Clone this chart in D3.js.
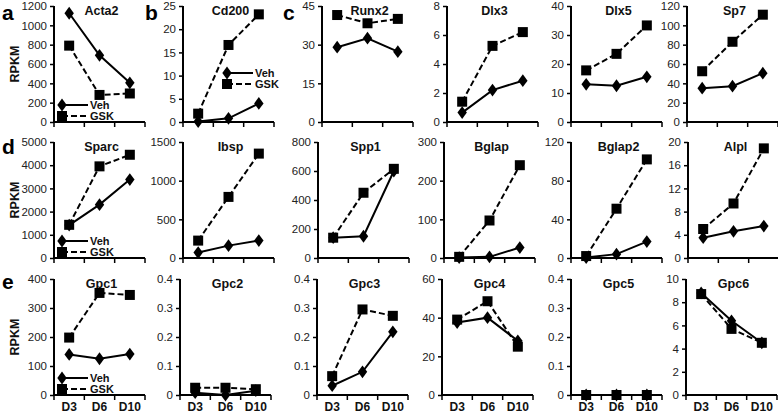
<!DOCTYPE html>
<html><head><meta charset="utf-8">
<script src="https://cdn.jsdelivr.net/npm/d3@7"></script>
<style>body{margin:0;background:#fff}svg{display:block}</style>
</head><body>
<svg id="c" width="778" height="414"></svg>
<script>
const days = ["D3","D6","D10"];
const genes = ["Acta2","Cd200","Runx2","Dlx3","Dlx5","Sp7","Sparc","Ibsp","Spp1","Bglap","Bglap2","Alpl","Gpc1","Gpc2","Gpc3","Gpc4","Gpc5","Gpc6"];
const vehValues = [
  [1125,690,405],[0.1,0.8,4.0],[29,32.5,27.3],[0.65,2.2,2.85],[13,12.5,15.6],[35,37,50.5],
  [1420,2300,3380],[70,160,225],[140,150,600],[1,3,27],[0.5,4,17],[3.5,4.6,5.5],
  [140,125,141],[0.008,0,0.015],[0.032,0.08,0.218],[37.5,40,28],[0,0,0],[8.8,6.4,4.5]
];
const gskValues = [
  [790,280,295],[1.8,16.6,23.2],[41.5,38.3,40],[1.4,5.25,6.2],[17.8,23.5,33.3],[52.5,83,111],
  [1430,3950,4450],[225,790,1350],[140,450,615],[3,97,240],[2,51,102],[5,9.4,18.9],
  [198,352,345],[0.025,0.025,0.02],[0.065,0.295,0.273],[39,48.5,25],[0,0,0],[8.7,5.7,4.5]
];
const yMax = [1200,25,45,8,40,120, 5000,1500,800,300,120,20, 400,0.4,0.4,60,0.4,10];
const yStep = [200,5,15,2,10,20, 1000,500,200,100,40,4, 100,0.1,0.1,20,0.1,2];
const panelLetters = ["a","b","c","d","e"];
const seriesNames = ["Veh","GSK"];
const yLabel = "RPKM";

// layout
const axisLeft = [[54,183,322,447,571,687],[54,183,318,444,571,688],[54,180,317,442,571,686]];
const rowTop = [6,142,279];
const plotH = 116, plotW = 91;
const legendPanels = {0:"bottom",1:"middle",6:"bottom",12:"bottom"};
const letterPos = [[2,20],[145,20],[283,20],[2,154],[2,289]];

const svg = d3.select("#c");
const font = "Liberation Sans, Arial, sans-serif";

function marker(g, type, x, y){
  if(type==="Veh"){
    g.append("path").attr("d", d3.symbol(d3.symbolDiamond, 58)()).attr("transform",`translate(${x},${y}) scale(1.15,0.9)`).attr("fill","#000");
  } else {
    g.append("rect").attr("x",x-5).attr("y",y-5).attr("width",10).attr("height",10).attr("fill","#000");
  }
}

genes.forEach((gene,i)=>{
  const r = Math.floor(i/6), c = i%6;
  const x0 = axisLeft[r][c], y0 = rowTop[r];
  const g = svg.append("g").attr("transform",`translate(${x0},${y0})`);
  const x = d3.scaleBand().domain(days).range([0,plotW]).padding(0);
  const y = d3.scaleLinear().domain([0,yMax[i]]).range([plotH,0]);
  const ticks = d3.range(0, yMax[i]+yStep[i]/2, yStep[i]).map(v=>+v.toFixed(4));
  const ya = g.append("g").call(d3.axisLeft(y).tickValues(ticks).tickSize(4).tickPadding(3).tickFormat(d=>String(d)));
  ya.select(".domain").attr("stroke","#000").attr("stroke-width",2).attr("d",`M0,${plotH+1}V0`);
  ya.selectAll(".tick line").attr("stroke","#000").attr("stroke-width",1.5);
  ya.selectAll("text").attr("font-family",font).attr("font-size",11.5).attr("fill","#222");
  const xa = g.append("g").attr("transform",`translate(0,${plotH})`);
  xa.append("line").attr("x1",-1).attr("x2",plotW).attr("stroke","#000").attr("stroke-width",2);
  [0,1,2,3].forEach(k=>{
    const tx = k<3 ? x(days[k]) : plotW;
    xa.append("line").attr("x1",tx).attr("x2",tx).attr("y1",0).attr("y2",5).attr("stroke","#000").attr("stroke-width",1.5);
  });
  if(r===2){
    days.forEach(d=>{
      xa.append("text").attr("x",x(d)+x.bandwidth()/2).attr("y",16).attr("text-anchor","middle")
        .attr("font-family",font).attr("font-weight","bold").attr("font-size",12).attr("fill","#111").text(d);
    });
  }
  g.append("text").attr("x",plotW/2+2).attr("y",9).attr("text-anchor","middle").attr("font-family",font)
    .attr("font-weight","bold").attr("font-size",12.5).attr("fill","#111").text(gene);
  const cx = d => x(d)+x.bandwidth()/2;
  const line = d3.line().x((v,k)=>cx(days[k])).y(v=>y(v));
  g.append("path").attr("d",line(gskValues[i])).attr("fill","none").attr("stroke","#000").attr("stroke-width",2).attr("stroke-dasharray","6,3");
  g.append("path").attr("d",line(vehValues[i])).attr("fill","none").attr("stroke","#000").attr("stroke-width",2);
  vehValues[i].forEach((v,k)=>marker(g,"Veh",cx(days[k]),y(v)));
  gskValues[i].forEach((v,k)=>marker(g,"GSK",cx(days[k]),y(v)));
  if(legendPanels[i]){
    const base = legendPanels[i]==="bottom" ? [plotH-17, plotH-6] : [67, 78];
    const lx = legendPanels[i]==="bottom" ? 8 : 44;
    seriesNames.forEach((s,k)=>{
      const ly = base[k];
      g.append("line").attr("x1",lx).attr("x2",lx+26).attr("y1",ly).attr("y2",ly).attr("stroke","#000").attr("stroke-width",2)
        .attr("stroke-dasharray", s==="GSK" ? "6,3" : null);
      marker(g,s,lx,ly);
      g.append("text").attr("x",lx+28).attr("y",ly+4).attr("font-family",font).attr("font-weight","bold")
        .attr("font-size",11).attr("fill","#111").text(s);
    });
  }
  if(c===0){
    svg.append("text").attr("transform",`translate(19,${y0+plotH/2}) rotate(-90)`).attr("text-anchor","middle")
      .attr("font-family",font).attr("font-weight","bold").attr("font-size",12.5).attr("fill","#111").text(yLabel);
  }
});
panelLetters.forEach((l,k)=>{
  svg.append("text").attr("x",letterPos[k][0]).attr("y",letterPos[k][1]).attr("font-family",font)
    .attr("font-weight","bold").attr("font-size",21).attr("fill","#000").text(l);
});
</script>
</body></html>
